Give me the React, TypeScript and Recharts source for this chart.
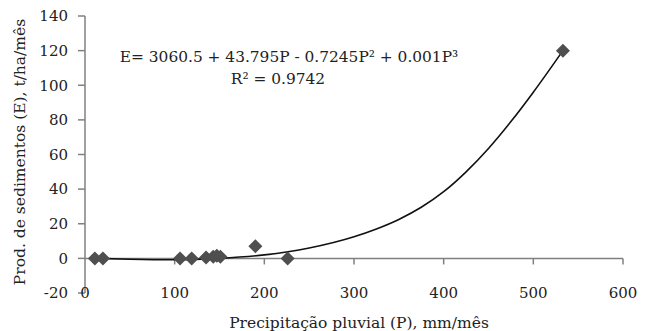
import React from "react";
import {
  ComposedChart,
  Scatter,
  Line,
  XAxis,
  YAxis,
  ReferenceLine,
} from "recharts";

// observed monthly values
const rainfall = [11, 20, 106, 119, 135, 143, 147, 151, 190, 226, 533];
const sediment = [0, 0, 0, 0, 0.5, 1, 1.5, 1, 7, 0, 120];

// fitted trend
const trendP = [14, 50, 100, 150, 200, 250, 300, 325, 350, 375, 400, 425, 450, 475, 500, 533];
const trendE = [0, -0.5, -0.8, 0, 2, 6, 12.5, 17, 22.5, 29.5, 38.5, 50, 63.5, 79, 96, 120];

const xTicks = [0, 100, 200, 300, 400, 500, 600];
const yTicks = [-20, 0, 20, 40, 60, 80, 100, 120, 140];

const points = rainfall.map((x, i) => ({ x, y: sediment[i] }));
const trend = trendP.map((x, i) => ({ x, y: trendE[i] }));

const FONT = "'DejaVu Serif', serif";
const AXIS = "#808080";
const TXT = "#222";

const Diamond = (props: any) => {
  const { cx, cy } = props;
  const r = 7;
  return (
    <polygon
      points={`${cx},${cy - r} ${cx + r},${cy} ${cx},${cy + r} ${cx - r},${cy}`}
      fill="#4f4f4f"
    />
  );
};

const XTick = (props: any) => {
  const { x, y, payload } = props;
  return (
    <text x={x} y={y} dy="0.35em" textAnchor="middle" fontSize={15} fontFamily={FONT} fill={TXT}>
      {payload.value}
    </text>
  );
};

export default function App() {
  return (
    <div style={{ width: 650, height: 331, background: "#fff" }}>
      <style>{`body{margin:0}`}</style>
      <ComposedChart
        width={650}
        height={331}
        margin={{ top: 16, right: 27, left: 25, bottom: 8 }}
      >
        <XAxis
          type="number"
          dataKey="x"
          domain={[0, 600]}
          ticks={xTicks}
          axisLine={false}
          tickLine={false}
          tickSize={0}
          tickMargin={0}
          height={30}
          tick={<XTick />}
          interval={0}
          label={{
            content: () => (
              <text x={359} y={323} dy="0.35em" textAnchor="middle" fontSize={15.5} fontFamily={FONT} fill={TXT}>
                Precipitação pluvial (P), mm/mês
              </text>
            ),
          }}
        />
        <YAxis
          type="number"
          domain={[-20, 140]}
          ticks={yTicks}
          width={60}
          interval={0}
          axisLine={{ stroke: AXIS, strokeWidth: 1.5 }}
          tickLine={{ stroke: AXIS, strokeWidth: 1.5 }}
          tickSize={7}
          tickMargin={10}
          tick={{ fontSize: 15, fontFamily: FONT, fill: TXT }}
          label={{
            content: () => (
              <text
                x={20}
                y={152}
                dy="0.35em"
                textAnchor="middle"
                transform="rotate(-90 20 152)"
                fontSize={15.5}
                fontFamily={FONT}
                fill={TXT}
              >
                Prod. de sedimentos (E), t/ha/mês
              </text>
            ),
          }}
        />
        <ReferenceLine y={0} stroke={AXIS} strokeWidth={1.5} />
        {xTicks.slice(1).map((t) => (
          <ReferenceLine
            key={t}
            segment={[
              { x: t, y: 0 },
              { x: t, y: -3.5 },
            ]}
            stroke={AXIS}
            strokeWidth={1.5}
          />
        ))}
        <Line
          data={trend}
          dataKey="y"
          type="monotone"
          stroke="#111"
          strokeWidth={1.6}
          dot={false}
          isAnimationActive={false}
        />
        <Scatter
          data={points}
          dataKey="y"
          shape={<Diamond />}
          isAnimationActive={false}
        />
        <text x={289} y={57} dy="0.35em" textAnchor="middle" fontSize={15.4} fontFamily={FONT} fill={TXT}>
          E= 3060.5 + 43.795P - 0.7245P² + 0.001P³
        </text>
        <text x={278} y={79} dy="0.35em" textAnchor="middle" fontSize={15.4} fontFamily={FONT} fill={TXT}>
          R² = 0.9742
        </text>
      </ComposedChart>
    </div>
  );
}
